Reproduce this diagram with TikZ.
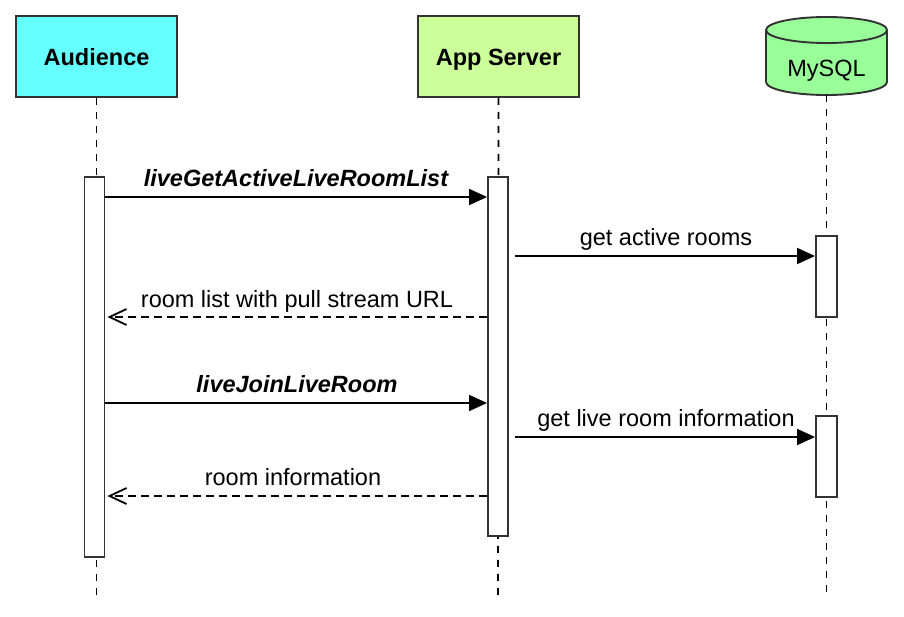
\documentclass[tikz,border=0pt]{standalone}
\usepackage{fontspec}
\setmainfont{Liberation Sans}
\usetikzlibrary{arrows.meta}
\definecolor{audfill}{HTML}{66FFFF}
\definecolor{srvfill}{HTML}{CCFF99}
\definecolor{dbfill}{HTML}{99FF99}
\definecolor{edge}{HTML}{333333}
\begin{document}
\begin{tikzpicture}[x=1pt,y=-1pt,
  actor/.style={draw=edge, line width=1.9pt, minimum width=161pt, minimum height=81pt,
    font=\fontsize{23.5}{28}\selectfont\bfseries, inner sep=0pt, text height=17pt, text depth=0pt},
  lifeline/.style={line width=1.8pt, dash pattern=on 7pt off 7pt},
  actbar/.style={draw=edge, fill=white, line width=1.9pt, minimum width=20pt, inner sep=0pt},
  call/.style={line width=1.8pt, -{Triangle[length=18pt,width=16pt]}},
  reply/.style={line width=1.8pt, dash pattern=on 8pt off 5pt, -{Straight Barb[length=17pt,width=16pt]}},
  lbl/.style={font=\fontsize{23.5}{28}\selectfont, anchor=base, inner sep=0pt},
  ilbl/.style={lbl, font=\fontsize{23.5}{28}\selectfont\bfseries\itshape}
]
\useasboundingbox (0,0) rectangle (904,616);
\fill[white] (0,0) rectangle (904,616);

% actors
\node[actor, fill=audfill] (aud) at (96.5,56.5) {Audience};
\node[actor, fill=srvfill] (srv) at (498.5,56.5) {App Server};

% database cylinder
\path[fill=dbfill, draw=edge, line width=1.9pt]
  (766,30) -- (766,82) arc[start angle=180, end angle=360, x radius=60.5pt, y radius=13pt]
  -- (887,30) arc[start angle=0, end angle=180, x radius=60.5pt, y radius=13pt] -- cycle;
\draw[edge, line width=1.9pt] (766,30) arc[start angle=180, end angle=360, x radius=60.5pt, y radius=13pt];
\node[inner sep=0pt, anchor=base, font=\fontsize{23.5}{28}\selectfont] (db) at (826.5,76) {MySQL};
\coordinate (dbbottom) at (826.5,95);

% lifelines
\coordinate (audend) at (96.5,597);
\coordinate (srvend) at (498,597);
\coordinate (dbend) at (826.5,597);
\draw[lifeline] (aud.south) -- (audend);
\draw[lifeline] (srv.south) -- (srvend);
\draw[lifeline] (dbbottom) -- (dbend);

% activation bars
\node[actbar, minimum height=380pt] (audbar) at (94.5,367) {};
\node[actbar, minimum height=359pt] (srvbar) at (498,356.5) {};
\node[actbar, minimum height=81pt, minimum width=21pt] (dbbar1) at (826.5,276.5) {};
\node[actbar, minimum height=81pt, minimum width=21pt] (dbbar2) at (826.5,456.5) {};

% messages
\draw[call] (audbar.east |- 0,197) -- (srvbar.west |- 0,197);
\node[ilbl] (m1) at (296,186) {liveGetActiveLiveRoomList};

\draw[call] ([xshift=6pt]srvbar.east |- 0,256) -- (dbbar1.west |- 0,256);
\node[lbl] (m2) at (666,245) {get active rooms};

\draw[reply] (srvbar.west |- 0,317) -- ([xshift=2pt]audbar.east |- 0,317);
\node[lbl] (m3) at (297,307) {room list with pull stream URL};

\draw[call] (audbar.east |- 0,403) -- (srvbar.west |- 0,403);
\node[ilbl] (m4) at (297,392) {liveJoinLiveRoom};

\draw[call] ([xshift=6pt]srvbar.east |- 0,437) -- (dbbar2.west |- 0,437);
\node[lbl] (m5) at (666,426) {get live room information};

\draw[reply] (srvbar.west |- 0,496) -- ([xshift=2pt]audbar.east |- 0,496);
\node[lbl] (m6) at (293,485) {room information};
\end{tikzpicture}
\end{document}
